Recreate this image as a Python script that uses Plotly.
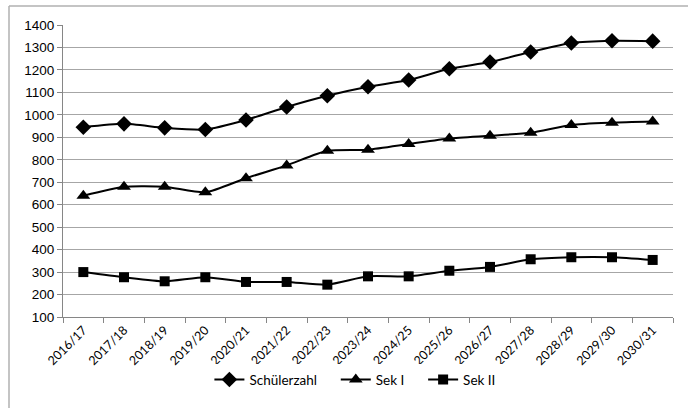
import plotly.graph_objects as go

jahre = ["2016/17", "2017/18", "2018/19", "2019/20", "2020/21", "2021/22", "2022/23",
         "2023/24", "2024/25", "2025/26", "2026/27", "2027/28", "2028/29", "2029/30", "2030/31"]
schuelerzahl = [945, 960, 942, 935, 977, 1035, 1085, 1125, 1155, 1205, 1235, 1280, 1320, 1330, 1328]
sek_1 = [640, 680, 680, 655, 718, 775, 840, 845, 870, 895, 907, 920, 955, 965, 970]
sek_2 = [300, 277, 259, 277, 256, 256, 244, 281, 281, 306, 323, 357, 366, 366, 354]

W, H = 688, 408
L, R, T, B = 63, 15, 25, 91

fig = go.Figure()
for name, vals, sym, size in [
    ("Schülerzahl", schuelerzahl, "diamond", 12),
    ("Sek I", sek_1, "triangle-up", 12),
    ("Sek II", sek_2, "square", 10),
]:
    fig.add_trace(go.Scatter(
        x=jahre, y=vals, name=name + "\u00a0\u00a0\u00a0\u00a0", mode="lines+markers",
        line=dict(color="black", width=2, shape="spline", smoothing=0.6),
        marker=dict(symbol=sym, size=size, color="black"),
    ))

pw, ph = W - L - R, H - T - B
# outer chart frame (only the left and top edges fall inside the picture)
fig.add_shape(type="line", xref="paper", yref="paper",
              x0=(9 - L) / pw, x1=(9 - L) / pw, y0=-0.5, y1=(ph + T - 6) / ph,
              line=dict(color="#b0b0b0", width=1.5), layer="below")
fig.add_shape(type="line", xref="paper", yref="paper",
              x0=(9 - L) / pw, x1=1.5, y0=(ph + T - 6) / ph, y1=(ph + T - 6) / ph,
              line=dict(color="#b0b0b0", width=1.5), layer="below")

fig.update_layout(
    width=W, height=H,
    margin=dict(l=L, r=R, t=T, b=B, autoexpand=False),
    paper_bgcolor="white", plot_bgcolor="white",
    showlegend=True,
    legend=dict(orientation="h", x=0.49, xanchor="center", y=-0.215, yanchor="middle",
                font=dict(family="Lato", size=13.5, color="black"), itemwidth=30,
                tracegroupgap=0),
    xaxis=dict(
        type="category", range=[-0.5, 14.5], tickangle=-45, automargin=False,
        tickson="boundaries", ticks="outside", ticklen=5, tickcolor="#868686",
        showline=True, linecolor="#868686", linewidth=1, showgrid=False,
        tickfont=dict(family="Lato", size=12.5, color="black"),
    ),
    yaxis=dict(
        range=[100, 1400], dtick=100, ticks="outside", ticklen=5, tickcolor="#868686",
        showline=True, linecolor="#868686", linewidth=1, automargin=False,
        showgrid=True, gridcolor="#a6a6a6", gridwidth=1.2, zeroline=False,
        tickfont=dict(family="Liberation Sans", size=13.5, color="black"),
    ),
)

# page body has a default 8px margin; remove it so the chart fills the window
fig.write_html("out.html", config={"displayModeBar": False},
               post_script="document.body.style.margin='0';document.body.style.overflow='hidden';")
